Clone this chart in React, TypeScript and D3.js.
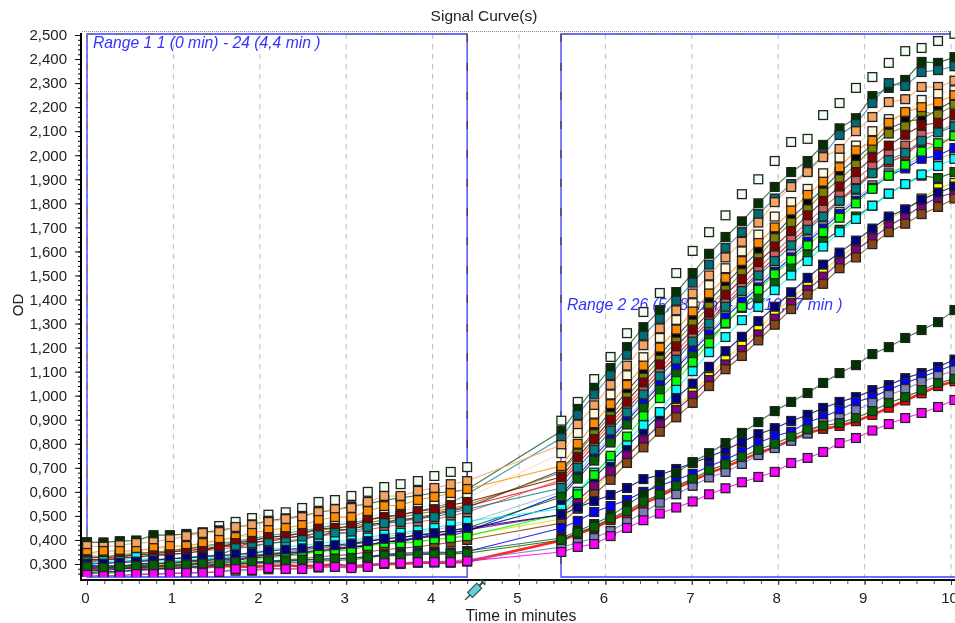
import React, { useEffect, useRef } from "react";
import * as d3 from "d3";

const timesRange1 = [0,.19,.38,.57,.77,.96,1.15,1.34,1.53,1.72,1.91,2.1,2.3,2.49,2.68,2.87,3.06,3.25,3.44,3.63,3.83,4.02,4.21,4.4];
const timesRange2 = [5.49,5.68,5.87,6.06,6.25,6.44,6.63,6.82,7.01,7.2,7.39,7.58,7.77,7.96,8.15,8.34,8.52,8.71,8.9,9.09,9.28,9.47,9.66,9.85,10.04];
const times = [...timesRange1, ...timesRange2];

const white = [385,385,390,395,410,415,420,428,458,475,491,505,515,533,558,566,583,600,620,632,645,666,683,703, 896,974,1069,1161,1260,1348,1427,1510,1602,1680,1750,1838,1900,1976,2055,2068,2167,2217,2280,2325,2384,2433,2446,2475,2505];
const darkGreen = [391,390,395,398,420,420,425,432,440,452,465,480,490,500,515,525,540,550,565,575,585,595,600,610, 853,945,1032,1115,1202,1285,1356,1431,1510,1590,1660,1725,1800,1868,1930,1976,2043,2112,2154,2246,2280,2313,2388,2384,2408];
const teal = [325,328,335,340,350,355,365,375,385,395,405,418,428,438,450,462,470,485,498,505,520,535,555,590, 824,920,1005,1085,1170,1250,1320,1395,1470,1545,1615,1680,1755,1820,1880,1935,2000,2084,2130,2217,2300,2288,2346,2354,2370];
const sandy = [375,372,378,387,391,403,416,429,433,454,462,475,487,495,516,528,533,558,583,583,604,616,632,645, 795,880,960,1045,1125,1210,1280,1355,1425,1500,1575,1640,1720,1805,1868,1930,1992,2026,2100,2159,2221,2233,2284,2284,2310];
const cream = [345,342,345,350,358,368,375,382,395,408,420,430,440,450,465,472,480,495,510,520,535,548,560,575, 761,845,925,1005,1085,1160,1240,1315,1385,1460,1530,1600,1670,1745,1805,1860,1925,1990,2040,2100,2150,2175,2230,2255,2270];
const orange = [346,354,354,354,366,375,375,387,400,412,429,441,450,462,483,495,495,520,541,545,566,579,595,612, 707,800,885,965,1045,1125,1200,1275,1350,1425,1490,1560,1635,1700,1770,1835,1890,1950,2020,2060,2135,2180,2200,2220,2250];
const black = [330,325,330,338,342,350,355,362,370,382,388,400,410,415,430,438,445,460,475,482,495,505,520,535, 690,770,850,935,1020,1095,1170,1245,1320,1395,1465,1535,1600,1670,1740,1800,1860,1930,1985,2045,2110,2140,2150,2190,2230];
const olive = [335,330,338,345,348,355,365,372,378,390,400,408,420,428,440,448,455,470,485,495,508,520,532,545, 680,760,840,915,995,1075,1150,1225,1300,1370,1440,1510,1575,1655,1720,1775,1845,1900,1960,2030,2090,2120,2180,2170,2210];
const maroon = [320,318,322,330,336,340,346,354,371,387,396,412,416,429,446,450,458,483,495,504,520,528,545,558, 662,745,820,900,975,1055,1130,1205,1275,1345,1420,1485,1555,1620,1685,1750,1810,1870,1930,1990,2040,2085,2125,2135,2170];
const indianRed = [320,315,325,330,335,340,345,355,360,370,378,385,395,405,415,425,430,442,455,465,475,485,500,515, 650,730,810,885,960,1035,1110,1185,1255,1325,1395,1460,1530,1595,1660,1720,1780,1840,1900,1955,2010,2040,2085,2100,2130];
const tealTwo = [312,305,310,315,318,322,328,333,337,366,371,387,391,400,420,429,433,454,470,475,491,495,512,528, 616,700,775,855,930,1005,1080,1150,1225,1300,1370,1435,1500,1560,1625,1690,1745,1810,1860,1925,1980,2010,2060,2095,2120];
const red = [310,318,322,345,350,345,365,360,375,370,390,395,405,420,410,440,445,465,470,490,480,510,525,540, 640,715,795,870,945,1020,1095,1165,1240,1310,1380,1445,1510,1575,1640,1700,1755,1815,1870,1930,1970,2000,2055,2040,2080];
const lime = [268,258,267,271,283,283,288,288,304,308,317,325,333,338,354,354,358,375,387,387,391,403,408,416, 508,590,670,750,830,915,990,1061,1140,1219,1302,1369,1440,1505,1565,1625,1680,1740,1800,1860,1915,1960,2015,2050,2080];
const lightBlue = [290,288,295,300,305,310,315,322,330,335,342,352,358,368,375,382,392,402,412,422,432,442,455,470, 600,680,760,830,905,980,1055,1125,1195,1265,1335,1400,1465,1530,1590,1650,1705,1765,1820,1875,1925,1955,1995,1985,2010];
const blue = [295,292,288,300,305,298,310,318,325,320,330,340,345,352,348,365,372,375,395,390,410,425,418,435, 590,665,745,820,895,970,1045,1115,1185,1255,1325,1390,1450,1515,1575,1640,1695,1755,1810,1865,1915,1945,1985,2000,2030];
const cyan = [300,312,312,329,320,312,320,320,325,337,350,358,370,378,385,395,398,410,422,430,440,450,465,478, 530,600,680,740,810,878,932,1027,1102,1181,1244,1314,1369,1439,1500,1560,1620,1680,1735,1790,1840,1880,1920,1955,1985];
const green = [285,282,290,298,302,305,312,315,322,328,335,342,350,358,368,372,380,392,405,410,420,430,438,450, 579,655,730,805,880,950,1025,1090,1165,1235,1300,1365,1410,1470,1530,1585,1640,1690,1745,1790,1840,1880,1915,1905,1930];
const navy = [275,272,280,285,290,295,298,305,310,315,325,330,338,345,355,360,368,378,390,398,408,415,430,440, 545,600,660,725,790,855,920,990,1050,1120,1185,1245,1310,1370,1430,1490,1545,1595,1645,1695,1745,1775,1815,1845,1870];
const yellow = [270,275,278,300,295,300,302,308,315,320,328,335,340,345,355,358,365,372,382,388,395,400,410,420, 487,545,610,680,741,815,878,949,1015,1078,1152,1210,1277,1344,1406,1460,1520,1575,1625,1680,1735,1770,1820,1864,1885];
const purple = [285,290,295,292,300,305,308,312,320,318,330,338,345,350,358,365,372,380,392,400,410,418,430,442, 505,565,625,685,750,815,880,940,1000,1065,1130,1190,1255,1320,1385,1440,1495,1555,1605,1655,1705,1745,1790,1825,1845];
const sienna = [260,262,268,272,276,280,285,290,295,300,305,310,318,322,330,335,340,350,360,365,372,380,390,400, 470,530,590,650,720,785,850,910,970,1040,1110,1165,1230,1295,1360,1420,1465,1530,1575,1630,1680,1715,1755,1785,1820];
const lowDarkGreen = [285,280,284,288,290,292,294,300,296,300,300,302,306,305,312,315,318,325,337,341,341,346,346,354, 408,437,466,500,545,590,640,678,724,761,803,845,890,936,974,1011,1053,1094,1127,1173,1202,1240,1273,1306,1356];
const lowNavy = [300,302,305,310,315,322,325,330,335,340,345,355,360,365,375,378,385,395,405,410,420,428,440,450, 505,535,562,587,616,653,670,695,720,745,774,807,840,865,895,920,949,974,994,1023,1044,1073,1094,1119,1150];
const lowBlue = [265,268,270,275,280,282,285,290,295,300,302,308,312,315,320,322,325,330,340,345,348,350,348,352, 450,479,516,541,566,600,625,650,675,705,735,766,803,832,850,890,911,940,974,994,1025,1053,1078,1103,1130];
const slate = [245,250,252,255,258,262,262,265,268,272,272,278,280,280,285,290,292,300,302,305,308,310,312,318, 370,388,408,437,475,515,555,590,625,660,683,716,753,782,812,843,886,907,940,970,1003,1028,1057,1082,1105];
const lowGreen = [290,285,288,292,295,295,298,302,300,308,308,312,315,318,320,322,325,330,335,335,340,340,342,345, 400,430,455,490,520,560,590,625,655,690,715,745,775,800,830,860,875,886,907,936,970,994,1023,1053,1070];
const lowRed = [280,278,285,282,288,286,290,285,292,290,288,292,295,290,294,298,290,295,300,300,305,306,305,310, 398,425,450,482,510,550,582,615,646,678,704,732,762,786,816,844,862,874,894,920,950,980,1010,1040,1060];
const magenta = [255,250,252,258,258,260,263,263,267,279,275,283,279,279,288,288,283,288,304,304,308,308,308,312, 350,371,383,416,450,482,510,535,560,590,615,640,662,683,720,741,766,803,824,855,882,907,928,953,982];

const seriesList: [number[], string, string?][] = [
  [white, "#f0fff0"],
  [lowRed, "#ff0000"],
  [red, "#ff0000"],
  [lightBlue, "#a0b8e0"],
  [indianRed, "#cd5c5c"],
  [blue, "#0000ff"],
  [yellow, "#ffff00", "#e8d800"],
  [purple, "#800080"],
  [sienna, "#8b4513"],
  [green, "#006400"],
  [navy, "#000080"],
  [darkGreen, "#003300", "#1f5f2f"],
  [teal, "#006b75", "#2a8a94"],
  [sandy, "#f4a460"],
  [cream, "#fff8dc", "#f5deb3"],
  [black, "#000000", "#333333"],
  [olive, "#808000"],
  [orange, "#ff8c00"],
  [maroon, "#800000"],
  [tealTwo, "#008080"],
  [cyan, "#00ffff"],
  [lime, "#00ff00"],
  [lowNavy, "#000080"],
  [lowBlue, "#0000ff"],
  [lowDarkGreen, "#003300", "#1f5f2f"],
  [slate, "#7b7bb8"],
  [lowGreen, "#006400"],
  [magenta, "#ff00ff"],
];

const xTicks = [0,1,2,3,4,5,6,7,8,9,10];
const xMinor = d3.range(0, 10.01, 0.2);
const yTicks = d3.range(300, 2501, 100);
const yMinor = d3.range(260, 2501, 20);
const range1Label = "Range 1 1 (0 min) - 24 (4,4 min )";
const range2Label = "Range 2 26 (5,48 min) - 50 (10,07 min )";

const x = d3.scaleLinear([0, 10], [87, 951]);
const y = d3.scaleLinear([300, 2500], [564, 35]);
const FONT = "'Liberation Sans', Arial, sans-serif";
const fmt = (v: number) => `${Math.floor(v / 1000)},${String(v % 1000).padStart(3, "0")}`;
const line = d3.line<number>().x((_, i) => x(times[i])).y((d) => y(d));

export default function App() {
  const leftRef = useRef<SVGGElement>(null);
  const bottomRef = useRef<SVGGElement>(null);
  useEffect(() => {
    const l = d3.select(leftRef.current!);
    l.selectAll("*").remove();
    const lMinor = l.append("g").call(d3.axisLeft(y).tickValues(yMinor).tickSize(2).tickFormat(() => ""));
    lMinor.select(".domain").remove();
    lMinor.selectAll("line").attr("stroke", "#000");
    const lMajor = l.append("g").call(d3.axisLeft(y).tickValues(yTicks).tickSize(5).tickPadding(8).tickFormat((d) => fmt(d as number)));
    lMajor.select(".domain").remove();
    lMajor.selectAll("line").attr("stroke", "#111");
    lMajor.selectAll("text").attr("font-family", FONT).attr("font-size", 15).attr("fill", "#222");

    const b = d3.select(bottomRef.current!);
    b.selectAll("*").remove();
    const bMinor = b.append("g").call(d3.axisBottom(x).tickValues(xMinor).tickSize(3).tickFormat(() => ""));
    bMinor.select(".domain").remove();
    bMinor.selectAll("line").attr("stroke", "#555");
    const bMajor = b.append("g").call(d3.axisBottom(x).tickValues(xTicks).tickSize(4).tickPadding(7).tickFormat((d) => String(d)));
    bMajor.select(".domain").remove();
    bMajor.selectAll("line").attr("stroke", "#333");
    bMajor.selectAll("text").attr("font-family", FONT).attr("font-size", 15).attr("fill", "#222").attr("dx", -2);
  }, []);

  const r1 = { x: x(0), x2: x(4.4) };
  const r2x = 561;
  const top = 34;
  const bot = 577;
  const dash = "8 21";
  const side = 8.8;

  return (
    <svg width={955} height={623} viewBox="0 0 955 623" style={{ position: "absolute", left: 0, top: 0, background: "#fff" }}>
      <defs>
        <clipPath id="plot"><rect x={82} y={31} width={873} height={546} /></clipPath>
        <filter id="soft" x="-2%" y="-2%" width="104%" height="104%"><feGaussianBlur stdDeviation="0.42" /></filter>
      </defs>
      <g filter="url(#soft)">
        <text x={484} y={21} textAnchor="middle" fontFamily={FONT} fontSize={15.5} fill="#222">Signal Curve(s)</text>
        <line x1={82} x2={955} y1={31.5} y2={31.5} stroke="#888" strokeDasharray="1 1" />

        {xTicks.map((t) => (
          <line key={t} x1={x(t)} x2={x(t)} y1={top} y2={bot} stroke="#bdbdbd" strokeDasharray="5 5" />
        ))}

        <path d={`M${r1.x},${bot}V${top}H${r1.x2}V${bot}Z`} fill="none" stroke="#3c3cff" strokeWidth={1.3} />
        <path d={`M955,${top}H${r2x}V${bot}H955`} fill="none" stroke="#3c3cff" strokeWidth={1.3} />
        <line x1={r1.x} x2={r1.x2} y1={top} y2={top} stroke="#777" strokeWidth={1.2} strokeDasharray={dash} />
        <line x1={r2x} x2={955} y1={top} y2={top} stroke="#777" strokeWidth={1.2} strokeDasharray={dash} />
        <line x1={r1.x2} x2={r1.x2} y1={top} y2={bot} stroke="#333" strokeWidth={1.1} strokeDasharray={dash} />
        <line x1={r2x} x2={r2x} y1={top} y2={bot} stroke="#333" strokeWidth={1.1} strokeDasharray={dash} />
        <line x1={r1.x} x2={r1.x} y1={top} y2={bot} stroke="#777" strokeWidth={1.2} strokeDasharray={dash} />

        <text x={93} y={48} fontFamily={FONT} fontStyle="italic" fontSize={15.7} fill="#3333ff">{range1Label}</text>
        <text x={567} y={310} fontFamily={FONT} fontStyle="italic" fontSize={15.7} fill="#3333ff">{range2Label}</text>

        <g clipPath="url(#plot)">
          {seriesList.map(([vals, fill, ln], i) => (
            <path key={i} d={line(vals) ?? ""} fill="none" stroke={ln ?? fill} strokeWidth={vals === lowRed ? 2.6 : 1.1} strokeOpacity={vals === white ? 0.6 : 0.85} />
          ))}
          {seriesList.map(([vals, fill], i) => (
            <g key={i}>
              {vals.map((v, j) => (
                <rect key={j} x={x(times[j]) - side / 2} y={y(v) - side / 2} width={side} height={side} fill={fill} stroke="#222" strokeWidth={1.3} />
              ))}
            </g>
          ))}
        </g>

        <rect x={80} y={33} width={2} height={548} fill="#000" />
        <rect x={80} y={579} width={875} height={2} fill="#111" />
        <g ref={leftRef} transform="translate(80,0)" />
        <g ref={bottomRef} transform="translate(0,581)" />

        <g transform="translate(475,590) rotate(-45)">
          <line x1={-14} x2={-7} y1={0} y2={0} stroke="#333" strokeWidth={1.3} />
          <rect x={-7} y={-3.5} width={13} height={7} fill="#62d0d6" stroke="#2b4a4f" strokeWidth={1.1} />
          <line x1={6} x2={11} y1={0} y2={0} stroke="#2b4a4f" strokeWidth={2} />
          <line x1={11} x2={11} y1={-3.5} y2={3.5} stroke="#2b4a4f" strokeWidth={1.6} />
        </g>

        <text x={521} y={621} textAnchor="middle" fontFamily={FONT} fontSize={15.8} fill="#222">Time in minutes</text>
        <text transform="translate(23,305) rotate(-90)" textAnchor="middle" fontFamily={FONT} fontSize={15} fill="#222">OD</text>
      </g>
    </svg>
  );
}
